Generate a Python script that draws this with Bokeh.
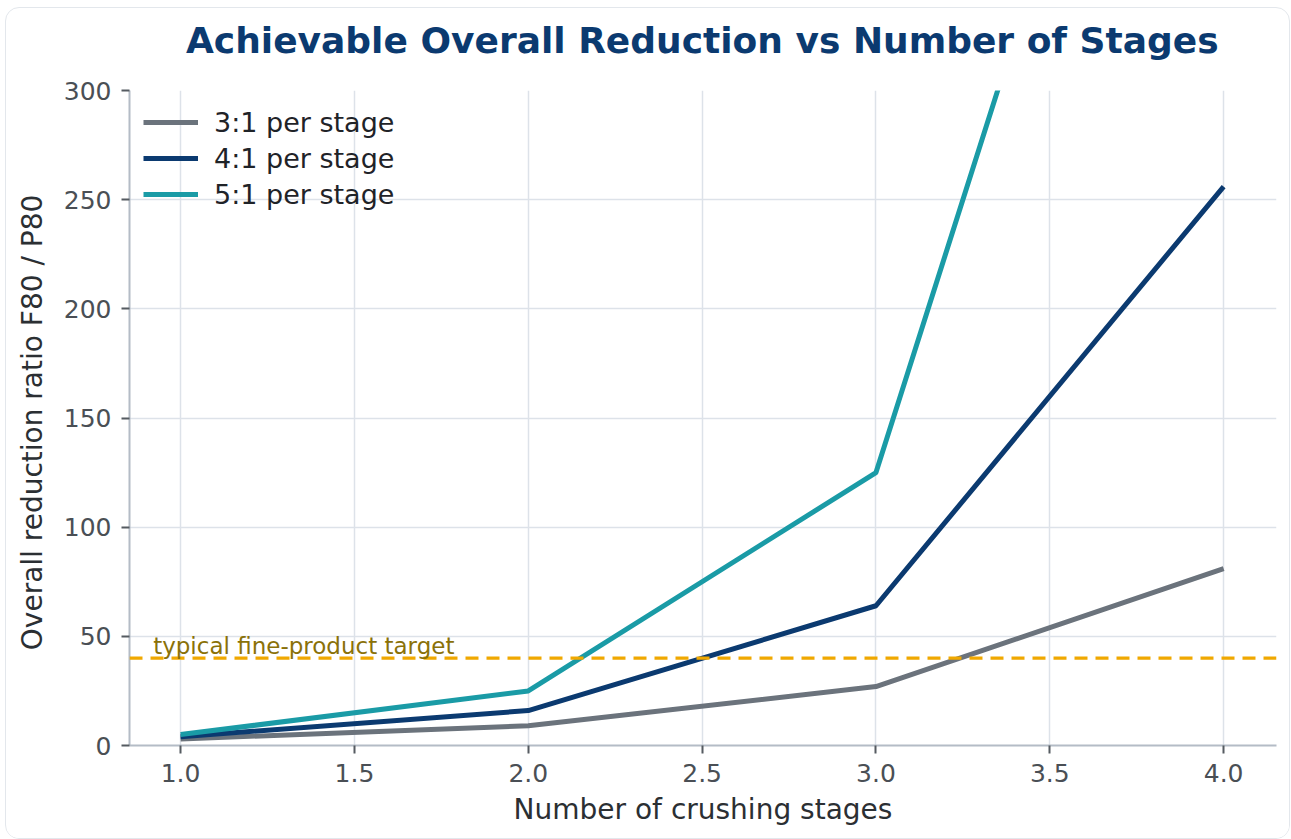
from bokeh.plotting import figure
from bokeh.layouts import column
from bokeh.models import Legend, LegendItem, Span, Label, FixedTicker, NumeralTickFormatter, Range1d, Div
from bokeh.embed import file_html
from bokeh.resources import INLINE

# ---- data ----
stages = [1, 2, 3, 4]
ratio_3 = [3, 9, 27, 81]
ratio_4 = [4, 16, 64, 256]
ratio_5 = [5, 25, 125, 625]
series_labels = ["3:1 per stage", "4:1 per stage", "5:1 per stage"]
series_colors = ["#6b737c", "#0b3a70", "#1a9ba6"]
target_value = 40
target_label = "typical fine-product target"
title_text = "Achievable Overall Reduction vs Number of Stages"
x_ticks = [1.0, 1.5, 2.0, 2.5, 3.0, 3.5, 4.0]
y_ticks = [0, 50, 100, 150, 200, 250, 300]

FONT = "DejaVu Sans"
TITLE_H = 60

title_div = Div(
    text=('<div style="font-family: \'DejaVu Sans\'; font-weight: bold; font-size: 36px; '
          'line-height: 36px; color: #0b3a70; text-align: left; padding-left: 180px; '
          'padding-top: 15px; white-space: nowrap;">' + title_text + '</div>'),
    width=1283, height=TITLE_H, margin=0)

p = figure(width=1283, height=830 - TITLE_H, output_backend="svg", toolbar_location=None,
           x_range=Range1d(0.853, 4.152), y_range=Range1d(0, 300),
           min_border_left=123, min_border_right=13, min_border_top=82 - TITLE_H,
           min_border_bottom=93, margin=0)
p.outline_line_color = None
p.background_fill_color = "white"
p.border_fill_color = "white"

renderers = []
for ys, col in zip([ratio_3, ratio_4, ratio_5], series_colors):
    r = p.line(stages, ys, line_color=col, line_width=5, line_join="round")
    renderers.append(r)

p.add_layout(Span(location=target_value, dimension="width", line_color="#f0a800",
                  line_width=3.2, line_dash="13 8"))
p.add_layout(Label(x=0.921, y=42, y_offset=8, text=target_label, text_font=FONT, text_font_size="23px",
                   text_color="#8a7108", text_baseline="alphabetic"))

for ax in (p.xaxis[0], p.yaxis[0]):
    ax.axis_line_color = "#b4bcc6"
    ax.axis_line_width = 2
    ax.major_tick_line_color = "#555b61"
    ax.major_tick_line_width = 2
    ax.major_tick_out = 8
    ax.major_tick_in = 0
    ax.minor_tick_line_color = None
    ax.major_label_text_font = FONT
    ax.major_label_text_font_size = "25px"
    ax.major_label_text_color = "#4a4f55"
    ax.axis_label_text_font = FONT
    ax.axis_label_text_font_size = "28px"
    ax.axis_label_text_font_style = "normal"
    ax.axis_label_text_color = "#2b2f33"

p.xaxis.ticker = FixedTicker(ticks=x_ticks)
p.xaxis.formatter = NumeralTickFormatter(format="0.0")
p.yaxis.ticker = FixedTicker(ticks=y_ticks)
p.xaxis.axis_label = "Number of crushing stages"
p.yaxis.axis_label = "Overall reduction ratio  F80 / P80"
p.xaxis.major_label_standoff = 10
p.yaxis.major_label_standoff = 10
p.xaxis.axis_label_standoff = 8
p.yaxis.axis_label_standoff = 12

p.xgrid.grid_line_color = "#dde2e9"
p.ygrid.grid_line_color = "#dde2e9"
p.xgrid.grid_line_width = 1.5
p.ygrid.grid_line_width = 1.5

legend = Legend(items=[LegendItem(label=l, renderers=[r]) for l, r in zip(series_labels, renderers)],
                location="top_left")
legend.border_line_color = None
legend.background_fill_alpha = 0
legend.label_text_font = FONT
legend.label_text_font_size = "27px"
legend.label_text_color = "#1f2328"
legend.glyph_width = 55
legend.glyph_height = 36
legend.label_height = 36
legend.spacing = 0
legend.label_standoff = 16
legend.margin = 14
legend.padding = 10
p.add_layout(legend)

layout = column(title_div, p, spacing=0)
layout.styles = {"border": "1.5px solid #e3e7ec", "border-radius": "14px", "overflow": "hidden",
                 "margin-left": "5px", "margin-top": "7px", "background-color": "white"}

open("out.html", "w").write(file_html(layout, INLINE))
